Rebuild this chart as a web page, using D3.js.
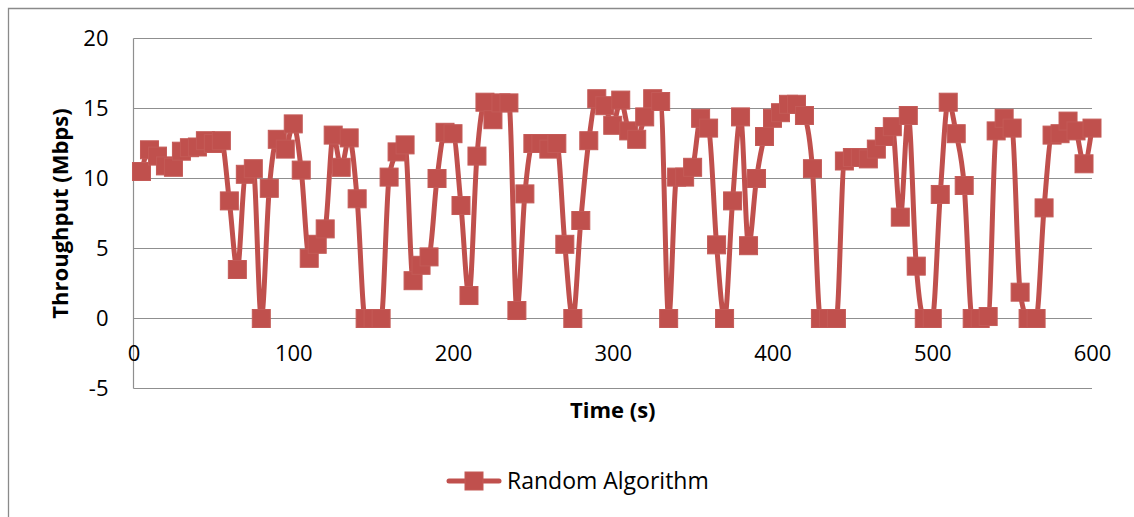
<!DOCTYPE html>
<html>
<head>
<meta charset="utf-8">
<script src="https://cdn.jsdelivr.net/npm/d3@7"></script>
<style>
  body { margin: 0; background: #fff; }
  svg { display: block; font-family: "Open Sans", sans-serif; }
</style>
</head>
<body>
<div id="chart"></div>
<script>
// data
var seriesName = "Random Algorithm";
var times = [5, 10, 15, 20, 25, 30, 35, 40, 45, 50,
  55, 60, 65, 70, 75, 80, 85, 90, 95, 100,
  105, 110, 115, 120, 125, 130, 135, 140, 145, 150,
  155, 160, 165, 170, 175, 180, 185, 190, 195, 200,
  205, 210, 215, 220, 225, 230, 235, 240, 245, 250,
  255, 260, 265, 270, 275, 280, 285, 290, 295, 300,
  305, 310, 315, 320, 325, 330, 335, 340, 345, 350,
  355, 360, 365, 370, 375, 380, 385, 390, 395, 400,
  405, 410, 415, 420, 425, 430, 435, 440, 445, 450,
  455, 460, 465, 470, 475, 480, 485, 490, 495, 500,
  505, 510, 515, 520, 525, 530, 535, 540, 545, 550,
  555, 560, 565, 570, 575, 580, 585, 590, 595, 600];
var throughput = [10.5, 12.05, 11.6, 10.9, 10.8, 11.95, 12.2, 12.25, 12.7, 12.5,
  12.7, 8.4, 3.5, 10.3, 10.7, 0, 9.3, 12.8, 12.1, 13.9,
  10.6, 4.3, 5.3, 6.4, 13.1, 10.8, 12.9, 8.55, 0, 0,
  0, 10.1, 11.9, 12.4, 2.7, 3.8, 4.4, 10.0, 13.3, 13.2,
  8.07, 1.64, 11.6, 15.45, 14.2, 15.4, 15.4, 0.57, 8.9, 12.5,
  12.5, 12.1, 12.5, 5.3, 0, 7.0, 12.7, 15.7, 15.2, 13.8,
  15.6, 13.4, 12.8, 14.4, 15.7, 15.5, 0, 10.1, 10.1, 10.8,
  14.3, 13.6, 5.26, 0, 8.4, 14.4, 5.2, 10.0, 13.0, 14.3,
  14.7, 15.3, 15.3, 14.5, 10.7, 0, 0, 0, 11.25, 11.5,
  11.5, 11.4, 12.1, 13.0, 13.7, 7.24, 14.5, 3.74, 0, 0,
  8.86, 15.45, 13.2, 9.5, 0, 0, 0.14, 13.4, 14.3, 13.6,
  1.88, 0, 0, 7.9, 13.1, 13.2, 14.1, 13.4, 11.05, 13.6];
var xTicks = [0, 100, 200, 300, 400, 500, 600];
var yTicks = [-5, 0, 5, 10, 15, 20];

var W = 1134, H = 517;
var red = "#C0504D", grid = "#8f8f8f";

var svg = d3.select("#chart").append("svg")
    .attr("width", W)
    .attr("height", H);

svg.append("rect").attr("width", W).attr("height", H).attr("fill", "#fff");

// outer chart border (right and bottom fall outside the picture)
svg.append("path")
    .attr("d", "M8.5," + H + "V8.5H" + W)
    .attr("fill", "none")
    .attr("stroke", "#8a8a8a")
    .attr("stroke-width", 1.3);

var x = d3.scaleLinear().domain([0, 600]).range([133.5, 1092]);
var y = d3.scaleLinear().domain([-5, 20]).range([388.5, 38.5]);

// gridlines
svg.append("g").selectAll("line")
    .data(yTicks)
  .enter().append("line")
    .attr("x1", x(0)).attr("x2", x(600))
    .attr("y1", function(d) { return y(d); })
    .attr("y2", function(d) { return y(d); })
    .attr("stroke", grid)
    .attr("stroke-width", 1.2);

// vertical axis line
svg.append("line")
    .attr("x1", x(0)).attr("x2", x(0))
    .attr("y1", y(20)).attr("y2", y(-5))
    .attr("stroke", grid)
    .attr("stroke-width", 1.2);

// axes labels (plain hyphen for negatives, like the original)
var fmt = function(d) { return String(d); };
var yAxis = svg.append("g")
    .attr("transform", "translate(" + x(0) + ",0)")
    .call(d3.axisLeft(y).tickValues(yTicks).tickFormat(fmt).tickSize(0).tickPadding(25));
var xAxis = svg.append("g")
    .attr("transform", "translate(0," + y(0) + ")")
    .call(d3.axisBottom(x).tickValues(xTicks).tickFormat(fmt).tickSize(0).tickPadding(27));
[yAxis, xAxis].forEach(function(a) {
  a.select(".domain").remove();
  a.selectAll("text")
    .style("font-family", "Open Sans")
    .style("font-size", "22px")
    .attr("fill", "#000");
});

// axis titles
svg.append("text")
    .attr("x", (x(0) + x(600)) / 2)
    .attr("y", 410)
    .attr("dy", "0.35em")
    .attr("text-anchor", "middle")
    .style("font-size", "22px")
    .style("font-weight", "bold")
    .text("Time (s)");

svg.append("text")
    .attr("transform", "translate(60," + (y(20) + y(-5)) / 2 + ") rotate(-90)")
    .attr("dy", "0.35em")
    .attr("text-anchor", "middle")
    .style("font-size", "22px")
    .style("font-weight", "bold")
    .text("Throughput (Mbps)");

// series
var data = times.map(function(t, i) { return {t: t, v: throughput[i]}; });

var line = d3.line()
    .x(function(d) { return x(d.t); })
    .y(function(d) { return y(d.v); })
    .curve(d3.curveMonotoneX);

svg.append("path")
    .datum(data)
    .attr("d", line)
    .attr("fill", "none")
    .attr("stroke", red)
    .attr("stroke-width", 5)
    .attr("stroke-linejoin", "round");

var ms = 18;
svg.append("g").selectAll("rect")
    .data(data)
  .enter().append("rect")
    .attr("x", function(d) { return x(d.t) - ms / 2; })
    .attr("y", function(d) { return y(d.v) - ms / 2; })
    .attr("width", ms)
    .attr("height", ms)
    .attr("fill", red)
    .attr("stroke", "#c45a57")
    .attr("stroke-width", 1);

// legend
var lg = svg.append("g").attr("transform", "translate(0,481)");
lg.append("line")
    .attr("x1", 449).attr("x2", 499)
    .attr("stroke", red)
    .attr("stroke-width", 5)
    .attr("stroke-linecap", "round");
lg.append("rect")
    .attr("x", 474 - ms / 2).attr("y", -ms / 2)
    .attr("width", ms).attr("height", ms)
    .attr("fill", red)
    .attr("stroke", "#c45a57");
lg.append("text")
    .attr("x", 507)
    .attr("dy", "0.35em")
    .style("font-size", "23px")
    .text(seriesName);
</script>
</body>
</html>
